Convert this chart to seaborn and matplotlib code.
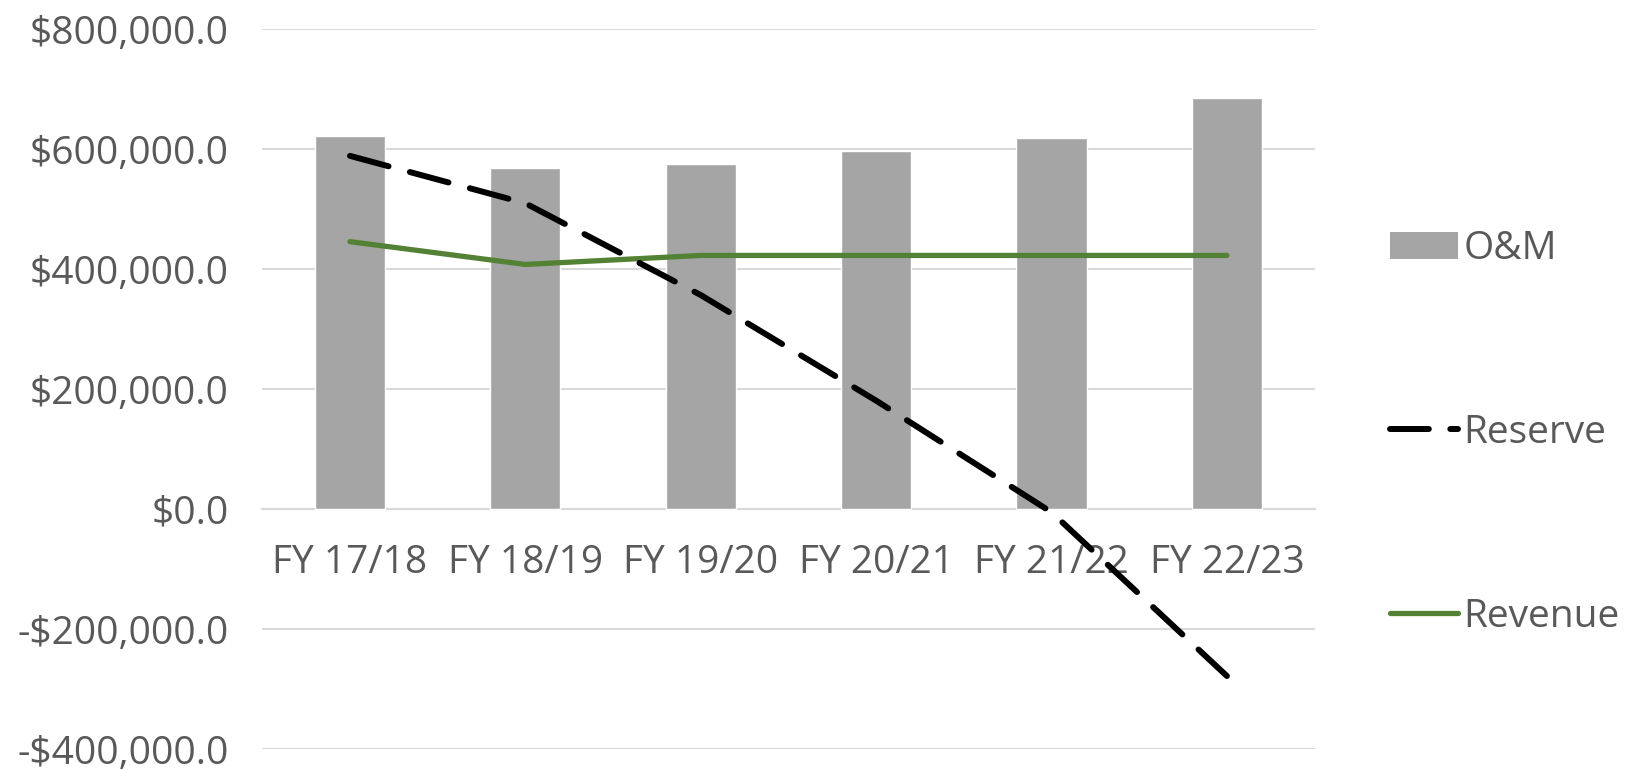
import matplotlib
matplotlib.use("Agg")
import matplotlib.pyplot as plt
import seaborn as sns
import pandas as pd
import numpy as np
from matplotlib.ticker import FuncFormatter, MultipleLocator
from matplotlib.patches import Patch
from matplotlib.lines import Line2D

# data
years = ['FY 17/18', 'FY 18/19', 'FY 19/20', 'FY 20/21', 'FY 21/22', 'FY 22/23']
om = [622000, 569000, 576000, 597000, 619000, 686000]
reserve = [589000, 510000, 357000, 181000, -5000, -278000]
revenue = [446000, 408000, 423000, 423000, 423000, 423000]

df = pd.DataFrame({'year': years, 'pos': np.arange(len(years)),
                   'om': om, 'reserve': reserve, 'revenue': revenue})

sns.set_style("white")
plt.rcParams['font.family'] = ['Open Sans', 'DejaVu Sans']
txt = '#595959'
bar_col = '#A5A5A5'
green = '#548235'
fs = 28
lw_res = 4.3
dash_on, dash_off = 6.5, 3.6

fig = plt.figure(figsize=(16.29, 7.7), dpi=100)
ax = fig.add_axes([0.161, 0.027, 0.646, 0.935])

sns.barplot(data=df, x='pos', y='om', color=bar_col, width=0.4,
            saturation=1, ax=ax, zorder=2)
sns.lineplot(data=df, x='pos', y='revenue', color=green, linewidth=3.8,
             ax=ax, zorder=3)
sns.lineplot(data=df, x='pos', y='reserve', color='black', linewidth=lw_res,
             ax=ax, zorder=4)
res_line = ax.lines[-1]
res_line.set_dash_capstyle('round')

ax.set_xlim(-0.5, len(years) - 0.5)
ax.set_ylim(-400000, 800000)
ax.yaxis.set_major_locator(MultipleLocator(200000))
ax.yaxis.set_major_formatter(FuncFormatter(
    lambda v, p: ('-$' if v < 0 else '$') + f'{abs(v):,.1f}'))
ax.grid(axis='y', color='#D9D9D9', linewidth=1.5, zorder=0)
ax.set_axisbelow(True)

for s in ['top', 'right', 'left']:
    ax.spines[s].set_visible(False)
ax.spines['bottom'].set_position(('data', 0))
ax.spines['bottom'].set_color('#D9D9D9')
ax.spines['bottom'].set_linewidth(1.5)
ax.spines['bottom'].set_zorder(1)

ax.set_xticks(np.arange(len(years)))
ax.set_xticklabels(years)
ax.tick_params(axis='x', length=0, pad=25, labelsize=fs, labelcolor=txt)
ax.tick_params(axis='y', length=0, pad=24, labelsize=fs, labelcolor=txt)
ax.set_xlabel('')
ax.set_ylabel('')

# stretch the dash pattern a little so the line ends on a full dash
fig.canvas.draw()
pts = ax.transData.transform(np.column_stack([np.arange(len(years)), reserve]))
length = np.sum(np.hypot(*np.diff(pts, axis=0).T)) * 72 / fig.dpi
period = (dash_on + dash_off) * lw_res
n = round((length - dash_on * lw_res) / period)
k = (length - dash_on * lw_res) / (n * period + 1e-9)
res_line.set_dashes((dash_on * k, dash_off * k))

handles = [Patch(facecolor=bar_col, edgecolor='none'),
           Line2D([], [], color='black', linewidth=lw_res, dashes=(dash_on, dash_off),
                  dash_capstyle='round'),
           Line2D([], [], color=green, linewidth=3.8, solid_capstyle='round')]
fig.legend(handles, ['O&M', 'Reserve', 'Revenue'], loc='center left',
           bbox_to_anchor=(0.853, 0.438), frameon=False, fontsize=fs,
           labelcolor=txt, handlelength=1.75, handletextpad=0.15,
           labelspacing=3.75, borderpad=0, borderaxespad=0)

fig.savefig('out.png', dpi=100)
